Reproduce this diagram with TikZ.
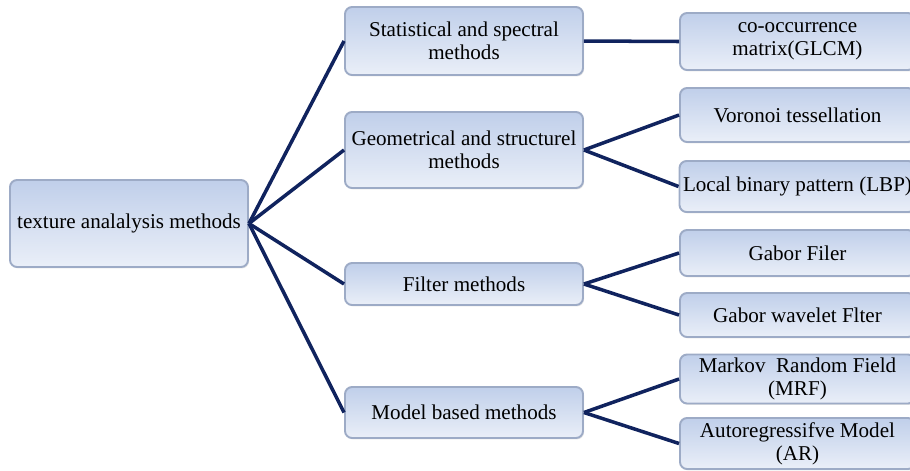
\documentclass[tikz,border=0pt]{standalone}
\usepackage{fontspec}
\setmainfont{Liberation Serif}
\usetikzlibrary{shadows}

\definecolor{boxtop}{HTML}{C0CFEA}
\definecolor{boxbot}{HTML}{EAEFF8}
\definecolor{boxedge}{HTML}{9DABC6}
\definecolor{linknavy}{HTML}{10235E}

\tikzset{
  box/.style={rectangle, rounded corners=4pt, draw=boxedge, line width=1.1pt,
    top color=boxtop, bottom color=boxbot, align=center,
    inner sep=2pt, font=\fontsize{12}{13}\selectfont,
    drop shadow={opacity=0.2, shadow xshift=0.6pt, shadow yshift=-0.8pt}},
  link/.style={draw=linknavy, line width=2pt}
}

\begin{document}
\begin{tikzpicture}
  \useasboundingbox (0,0) rectangle (18.2,-9.4);

  % root
  \node[box, minimum width=4.76cm, minimum height=1.74cm] (root) at (2.58,-4.47) {texture analalysis methods};

  % methods
  \node[box, minimum width=4.76cm, minimum height=1.36cm] (stat) at (9.28,-0.82) {Statistical and spectral\\methods};
  \node[box, minimum width=4.76cm, minimum height=1.52cm] (geom) at (9.28,-3.00) {Geometrical and structurel\\methods};
  \node[box, minimum width=4.76cm, minimum height=0.84cm] (filt) at (9.28,-5.68) {Filter methods};
  \node[box, minimum width=4.76cm, minimum height=1.02cm] (model) at (9.28,-8.25) {Model based methods};

  % techniques
  \node[box, minimum width=4.70cm, minimum height=1.14cm] (glcm) at (15.95,-0.83) {co-occurrence\\matrix(GLCM)};
  \node[box, minimum width=4.70cm, minimum height=1.08cm] (voro) at (15.95,-2.30) {Voronoi tessellation};
  \node[box, minimum width=4.70cm, minimum height=1.02cm] (lbp) at (15.95,-3.73) {Local binary pattern (LBP)};
  \node[box, minimum width=4.70cm, minimum height=0.92cm] (gab) at (15.95,-5.06) {Gabor Filer};
  \node[box, minimum width=4.70cm, minimum height=0.88cm] (gabw) at (15.95,-6.30) {Gabor wavelet Flter};
  \node[box, minimum width=4.70cm, minimum height=0.88cm] (mrf) at (15.95,-7.58) {Markov~ Random Field\\(MRF)};
  \node[box, minimum width=4.70cm, minimum height=1.02cm] (ar) at (15.95,-8.87) {Autoregressifve Model\\(AR)};

  % links
  \draw[link] (root.east) -- (stat.west);
  \draw[link] (root.east) -- (geom.west);
  \draw[link] (root.east) -- (filt.west);
  \draw[link] (root.east) -- (model.west);

  \draw[link] (stat.east) -- (glcm.west);
  \draw[link] (geom.east) -- (voro.west);
  \draw[link] (geom.east) -- (lbp.west);
  \draw[link] (filt.east) -- (gab.west);
  \draw[link] (filt.east) -- (gabw.west);
  \draw[link] (model.east) -- (mrf.west);
  \draw[link] (model.east) -- (ar.west);
\end{tikzpicture}
\end{document}
